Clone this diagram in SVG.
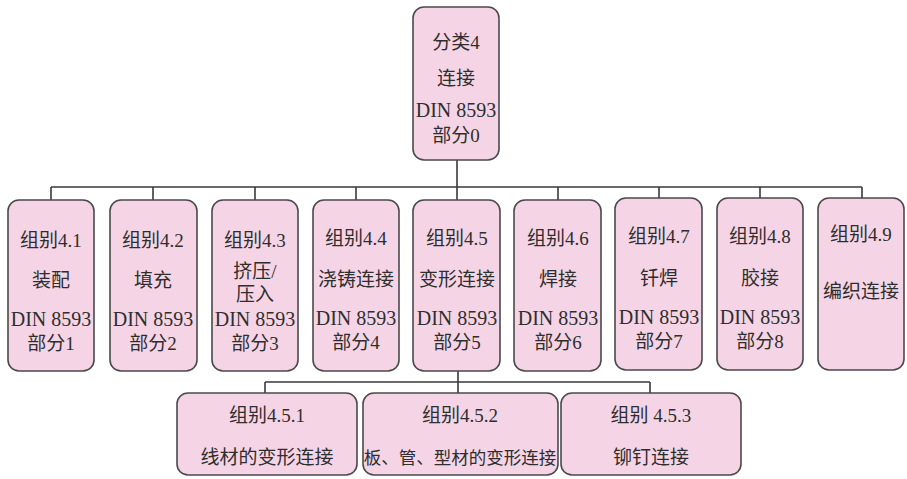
<svg xmlns="http://www.w3.org/2000/svg" width="907" height="479" viewBox="0 0 907 479">
<style>
.box{fill:#f5d5e5;stroke:#4a4a4a;stroke-width:1.6}
.t{font-family:"Liberation Serif","Noto Sans CJK SC",serif;font-size:19px;fill:#2e2e2e;text-anchor:middle}
.d{font-family:"Liberation Serif","Times New Roman",serif;font-size:20px;fill:#2e2e2e;text-anchor:middle}
.c{fill:none;stroke:#3a3a3a;stroke-width:1.6}
</style>
<rect width="907" height="479" fill="#ffffff"/>
<g id="connectors" class="c">
<path d="M457 160V187M51 187H862M51 187V200M153 187V200M255 187V200M356 187V200M457 187V200M558 187V200M659 187V200M760 187V200M862 187V200"/>
<path d="M458 371V382M265 382H650M265 382V393M458 382V393M650 382V393"/>
</g>
<g id="n4">
<rect class="box" x="413" y="7" width="86" height="153" rx="11"/>
<text class="t" x="456" y="49">分类4</text>
<text class="t" x="456" y="85">连接</text>
<text class="d" x="456" y="117">DIN 8593</text>
<text class="t" x="456" y="142">部分0</text>
</g>
<g id="n41">
<rect class="box" x="8" y="200" width="86" height="171" rx="11"/>
<text class="t" x="51" y="247">组别4.1</text>
<text class="t" x="51" y="287">装配</text>
<text class="d" x="51" y="326">DIN 8593</text>
<text class="t" x="51" y="350">部分1</text>
</g>
<g id="n42">
<rect class="box" x="110" y="200" width="87" height="171" rx="11"/>
<text class="t" x="153" y="247">组别4.2</text>
<text class="t" x="153" y="287">填充</text>
<text class="d" x="153" y="326">DIN 8593</text>
<text class="t" x="153" y="350">部分2</text>
</g>
<g id="n43">
<rect class="box" x="212" y="200" width="86" height="171" rx="11"/>
<text class="t" x="255" y="247">组别4.3</text>
<text class="t" x="255" y="278">挤压/</text>
<text class="t" x="255" y="301">压入</text>
<text class="d" x="255" y="326">DIN 8593</text>
<text class="t" x="255" y="350">部分3</text>
</g>
<g id="n44">
<rect class="box" x="313" y="200" width="86" height="171" rx="11"/>
<text class="t" x="356" y="245">组别4.4</text>
<text class="t" x="356" y="286">浇铸连接</text>
<text class="d" x="356" y="325">DIN 8593</text>
<text class="t" x="356" y="349">部分4</text>
</g>
<g id="n45">
<rect class="box" x="413" y="200" width="87" height="171" rx="11"/>
<text class="t" x="457" y="245">组别4.5</text>
<text class="t" x="457" y="286">变形连接</text>
<text class="d" x="457" y="325">DIN 8593</text>
<text class="t" x="457" y="349">部分5</text>
</g>
<g id="n46">
<rect class="box" x="514" y="200" width="87" height="171" rx="11"/>
<text class="t" x="558" y="245">组别4.6</text>
<text class="t" x="558" y="286">焊接</text>
<text class="d" x="558" y="325">DIN 8593</text>
<text class="t" x="558" y="349">部分6</text>
</g>
<g id="n47">
<rect class="box" x="615" y="198" width="87" height="172" rx="11"/>
<text class="t" x="659" y="243">组别4.7</text>
<text class="t" x="659" y="285">钎焊</text>
<text class="d" x="659" y="324">DIN 8593</text>
<text class="t" x="659" y="348">部分7</text>
</g>
<g id="n48">
<rect class="box" x="717" y="198" width="86" height="172" rx="11"/>
<text class="t" x="760" y="243">组别4.8</text>
<text class="t" x="760" y="285">胶接</text>
<text class="d" x="760" y="324">DIN 8593</text>
<text class="t" x="760" y="348">部分8</text>
</g>
<g id="n49">
<rect class="box" x="818" y="198" width="86" height="172" rx="11"/>
<text class="t" x="861" y="241">组别4.9</text>
<text class="t" x="861" y="298">编织连接</text>
</g>
<g id="n451">
<rect class="box" x="177" y="393" width="180" height="82" rx="11"/>
<text class="t" x="267" y="422">组别4.5.1</text>
<text class="t" x="267" y="464">线材的变形连接</text>
</g>
<g id="n452">
<rect class="box" x="363" y="393" width="195" height="82" rx="11"/>
<text class="t" x="460" y="422">组别4.5.2</text>
<text class="t" x="460" y="464" style="font-size:17.5px">板、管、型材的变形连接</text>
</g>
<g id="n453">
<rect class="box" x="561" y="393" width="180" height="82" rx="11"/>
<text class="t" x="651" y="422">组别 4.5.3</text>
<text class="t" x="651" y="464">铆钉连接</text>
</g>
</svg>
